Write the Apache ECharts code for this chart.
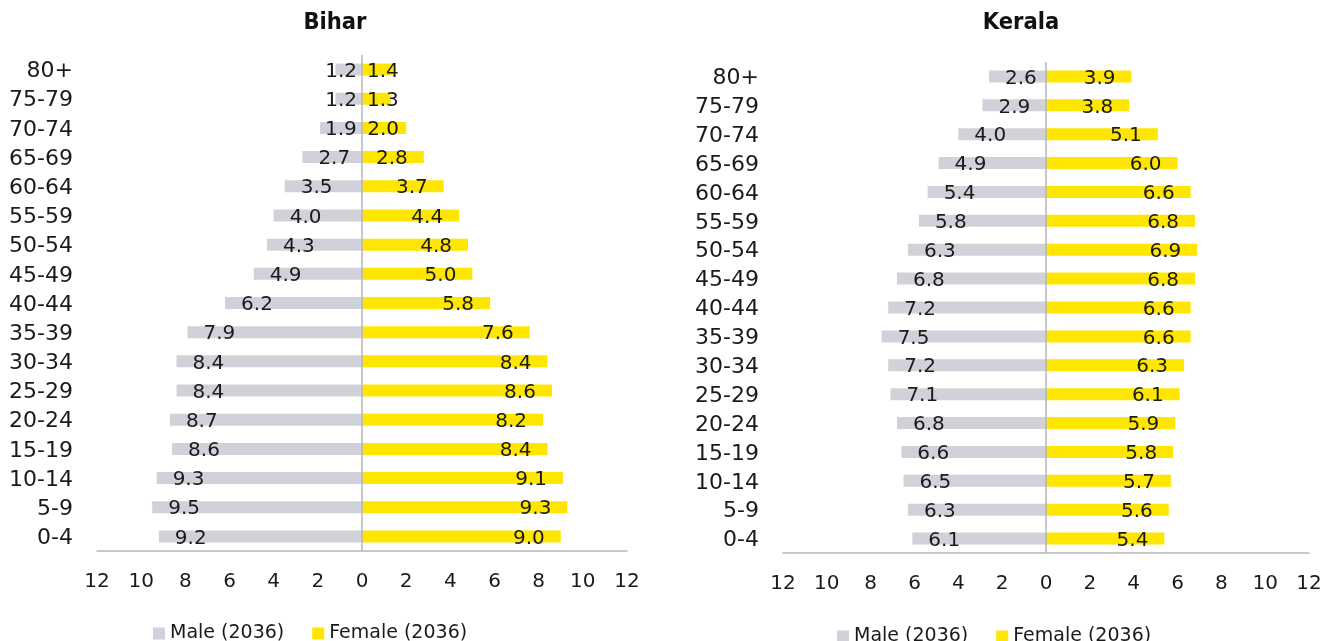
<!DOCTYPE html>
<html>
<head>
<meta charset="utf-8">
<script src="https://cdn.jsdelivr.net/npm/echarts@6/dist/echarts.min.js"></script>
<style>
  html, body { margin: 0; padding: 0; background: #fff; }
  #chart { width: 1336px; height: 641px; }
</style>
</head>
<body>
<div id="chart"></div>
<script>
// age groups, top to bottom as drawn
const ageGroups = ['80+', '75-79', '70-74', '65-69', '60-64', '55-59', '50-54', '45-49',
  '40-44', '35-39', '30-34', '25-29', '20-24', '15-19', '10-14', '5-9', '0-4'];

const biharMale = [1.2, 1.2, 1.9, 2.7, 3.5, 4.0, 4.3, 4.9, 6.2, 7.9, 8.4, 8.4, 8.7, 8.6, 9.3, 9.5, 9.2];
const biharFemale = [1.4, 1.3, 2.0, 2.8, 3.7, 4.4, 4.8, 5.0, 5.8, 7.6, 8.4, 8.6, 8.2, 8.4, 9.1, 9.3, 9.0];
const keralaMale = [2.6, 2.9, 4.0, 4.9, 5.4, 5.8, 6.3, 6.8, 7.2, 7.5, 7.2, 7.1, 6.8, 6.6, 6.5, 6.3, 6.1];
const keralaFemale = [3.9, 3.8, 5.1, 6.0, 6.6, 6.8, 6.9, 6.8, 6.6, 6.6, 6.3, 6.1, 5.9, 5.8, 5.7, 5.6, 5.4];

const maleName = 'Male (2036)';
const femaleName = 'Female (2036)';
const FONT = 'DejaVu Sans';
const MALE_COLOR = '#d1d1d9';
const FEMALE_COLOR = '#ffe600';
const LINE_COLOR = '#b4b4bc';
const TEXT_COLOR = '#1a1a1a';

const gridWidths = [530, 526];
const LABEL_W = 32; // approx width of a "x.x" label at 20px

const chart = echarts.init(document.getElementById('chart'));

function xAxis(gridIndex) {
  return {
    type: 'value',
    gridIndex: gridIndex,
    min: -12,
    max: 12,
    interval: 2,
    splitLine: { show: false },
    axisTick: { show: false },
    axisLine: { show: true, onZero: false, lineStyle: { color: LINE_COLOR, width: 1.5 } },
    axisLabel: {
      margin: 21,
      color: TEXT_COLOR,
      fontFamily: FONT,
      fontSize: 20,
      formatter: v => Math.abs(v)
    }
  };
}

function yAxis(gridIndex) {
  return {
    type: 'category',
    gridIndex: gridIndex,
    inverse: true,
    data: ageGroups,
    axisLine: { show: false },
    axisTick: { show: false },
    axisLabel: {
      margin: 24,
      color: TEXT_COLOR,
      fontFamily: FONT,
      fontSize: 22,
      formatter: v => '{a|' + v + '}',
      rich: { a: { fontFamily: FONT, fontSize: 22, color: TEXT_COLOR, padding: [4, 0, 0, 0] } }
    }
  };
}

function series(name, values, idx, male) {
  const pxPerUnit = gridWidths[idx] / 24;
  // label sits inside the bar end; on short bars it slides toward the zero line
  const data = values.map(v => {
    const item = { value: male ? -v : v };
    const room = v * pxPerUnit - LABEL_W - 5;
    if (room < 0) {
      item.label = { position: male ? 'insideRight' : 'insideLeft', distance: 5 };
    } else if (room < 16) {
      item.label = { distance: room };
    }
    return item;
  });
  const s = {
    name: name,
    type: 'bar',
    xAxisIndex: idx,
    yAxisIndex: idx,
    stack: 'pyr' + idx,
    barWidth: 12,
    itemStyle: { color: male ? MALE_COLOR : FEMALE_COLOR },
    label: {
      show: true,
      position: male ? 'insideLeft' : 'insideRight',
      distance: 16,
      offset: [0, 2],
      color: TEXT_COLOR,
      fontFamily: FONT,
      fontSize: 20,
      formatter: p => Math.abs(p.value).toFixed(1)
    },
    data: data
  };
  if (male) {
    s.markLine = {
      silent: true,
      symbol: 'none',
      label: { show: false },
      lineStyle: { color: LINE_COLOR, type: 'solid', width: 1.5 },
      data: [{ xAxis: 0 }]
    };
  }
  return s;
}

const titleStyle = {
  fontFamily: 'DejaVu Sans Condensed, DejaVu Sans',
  fontWeight: 'bold',
  fontSize: 23.5,
  color: '#111'
};
const legendText = { fontFamily: FONT, fontSize: 19, color: TEXT_COLOR };

const option = {
  animation: false,
  title: [
    { text: 'Bihar', left: 330, top: 6, textAlign: 'center', textStyle: titleStyle },
    { text: 'Kerala', left: 1016, top: 6, textAlign: 'center', textStyle: titleStyle }
  ],
  legend: [
    { left: 148, top: 619, itemWidth: 12, itemHeight: 12, itemGap: 28, icon: 'rect',
      data: [maleName, femaleName], textStyle: legendText },
    { left: 832, top: 622, itemWidth: 12, itemHeight: 12, itemGap: 28, icon: 'rect',
      data: [maleName, femaleName], textStyle: legendText }
  ],
  grid: [
    { left: 97, top: 55, width: gridWidths[0], height: 496 },
    { left: 783, top: 62, width: gridWidths[1], height: 491 }
  ],
  xAxis: [xAxis(0), xAxis(1)],
  yAxis: [yAxis(0), yAxis(1)],
  series: [
    series(maleName, biharMale, 0, true),
    series(femaleName, biharFemale, 0, false),
    series(maleName, keralaMale, 1, true),
    series(femaleName, keralaFemale, 1, false)
  ]
};

chart.setOption(option);
</script>
</body>
</html>
